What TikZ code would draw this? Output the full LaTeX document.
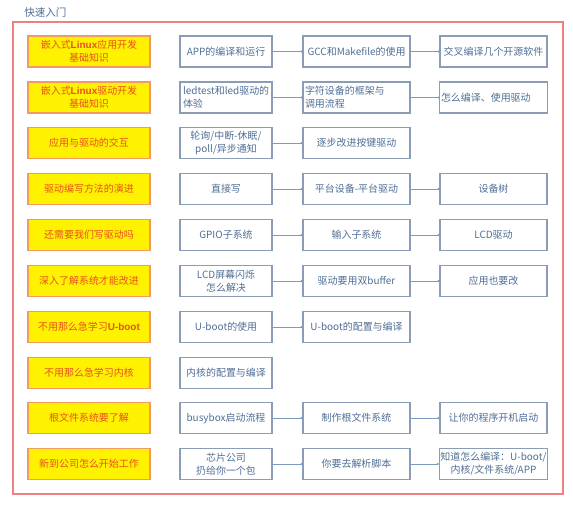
\documentclass[tikz,border=0pt]{standalone}
\usepackage{fontspec}
\setmainfont{Noto Sans CJK SC}
\newfontfamily\lat{Liberation Sans}
\usetikzlibrary{arrows.meta,positioning}
\tikzset{every picture/.style={line width=0.75pt}}

\definecolor{frameRed}{HTML}{EE8080}
\definecolor{topicFill}{HTML}{FFF200}
\definecolor{topicLine}{HTML}{F39A60}
\definecolor{topicText}{HTML}{E8501E}
\definecolor{stepLine}{HTML}{8A9DB5}
\definecolor{stepText}{HTML}{4F6E95}
\definecolor{linkBlue}{HTML}{7D9BBF}

\tikzset{
  topic/.style={draw=topicLine, fill=topicFill, text=topicText, line width=1pt,
    minimum width=122*0.03cm, minimum height=31*0.03cm, align=center, inner sep=1pt,
    font=\fontsize{8.5pt}{11pt}\selectfont},
  stepbox/.style={draw=stepLine, text=stepText, line width=0.9pt,
    minimum height=31*0.03cm, align=center, inner sep=1pt,
    font=\fontsize{8.5pt}{11pt}\selectfont},
  narrow/.style={stepbox, minimum width=92*0.03cm},
  wide/.style={stepbox, minimum width=107*0.03cm},
  link/.style={draw=linkBlue, line width=0.6pt, -{Circle[length=1.6pt]}},
}
\newcommand{\hl}[1]{{\lat\bfseries #1}}

\begin{document}
\begin{tikzpicture}[x=0.03cm, y=-0.03cm]
    \useasboundingbox (0,0) rectangle (573,506);

    % 外框与标题
    \draw[frameRed, line width=0.9pt] (13,22) rectangle (563,494);
    \node[text=stepText, font=\fontsize{9pt}{11pt}\selectfont, anchor=west] (title) at (20,13) {快速入门};

    % 左列：黄色主题
    \node[topic] (t1) at (89,51.5) {嵌入式\hl{Linux}应用开发\\基础知识};
    \node[topic] (t2) at (89,97.5) {嵌入式\hl{Linux}驱动开发\\基础知识};
    \node[topic] (t3) at (89,143) {应用与驱动的交互};
    \node[topic] (t4) at (89,189) {驱动编写方法的演进};
    \node[topic] (t5) at (89,235) {还需要我们写驱动吗};
    \node[topic] (t6) at (89,281) {深入了解系统才能改进};
    \node[topic] (t7) at (89,327) {不用那么急学习\hl{U-boot}};
    \node[topic] (t8) at (89,373) {不用那么急学习内核};
    \node[topic] (t9) at (89,418) {根文件系统要了解};
    \node[topic] (t10) at (89,464) {新到公司怎么开始工作};

    % 第二列
    \node[narrow] (a1) at (226,51.5) {APP的编译和运行};
    \node[narrow, align=left, text width=86*0.03cm] (a2) at (226,97.5) {ledtest和led驱动的\\体验};
    \node[narrow] (a3) at (226,143) {轮询/中断-休眠/\\poll/异步通知};
    \node[narrow] (a4) at (226,189) {直接写};
    \node[narrow] (a5) at (226,235) {GPIO子系统};
    \node[narrow] (a6) at (226,281) {LCD屏幕闪烁\\怎么解决};
    \node[narrow] (a7) at (226,327) {U-boot的使用};
    \node[narrow] (a8) at (226,373) {内核的配置与编译};
    \node[narrow] (a9) at (226,418) {busybox启动流程};
    \node[narrow] (a10) at (226,464) {芯片公司\\扔给你一个包};

    % 第三列
    \node[wide] (b1) at (356.5,51.5) {GCC和Makefile的使用};
    \node[wide, align=left, text width=103*0.03cm] (b2) at (356.5,97.5) {字符设备的框架与\\调用流程};
    \node[wide] (b3) at (356.5,143) {逐步改进按键驱动};
    \node[wide] (b4) at (356.5,189) {平台设备-平台驱动};
    \node[wide] (b5) at (356.5,235) {输入子系统};
    \node[wide] (b6) at (356.5,281) {驱动要用双buffer};
    \node[wide] (b7) at (356.5,327) {U-boot的配置与编译};
    \node[wide] (b9) at (356.5,418) {制作根文件系统};
    \node[wide] (b10) at (356.5,464) {你要去解析脚本};

    % 第四列
    \node[wide] (c1) at (493.5,51.5) {交叉编译几个开源软件};
    \node[wide, align=left, text width=105*0.03cm] (c2) at (493.5,97.5) {怎么编译、使用驱动};
    \node[wide] (c4) at (493.5,189) {设备树};
    \node[wide] (c5) at (493.5,235) {LCD驱动};
    \node[wide] (c6) at (493.5,281) {应用也要改};
    \node[wide] (c9) at (493.5,418) {让你的程序开机启动};
    \node[wide] (c10) at (493.5,464) {知道怎么编译：U-boot/\\内核/文件系统/APP};

    % 连线
    \foreach \r in {1,2,3,4,5,6,7,9,10}
        \draw[link] (a\r) -- (b\r);
    \foreach \r in {1,2,4,5,6,9,10}
        \draw[link] (b\r) -- (c\r);
\end{tikzpicture}
\end{document}
